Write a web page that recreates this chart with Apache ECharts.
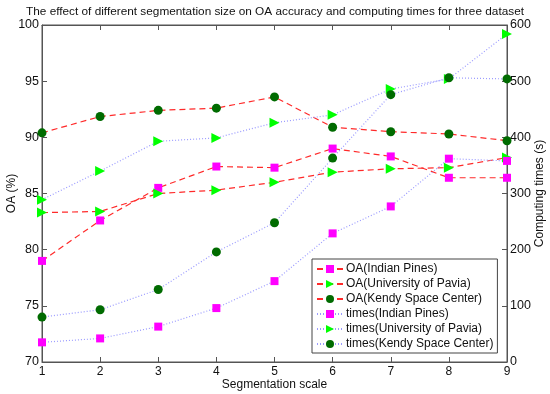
<!DOCTYPE html>
<html><head><meta charset="utf-8">
<script src="https://cdn.jsdelivr.net/npm/echarts@6/dist/echarts.min.js"></script>
<style>html,body{margin:0;padding:0;background:#fff}#c{width:550px;height:394px}</style>
</head><body><div id="c"></div>
<script>
const scales = [1,2,3,4,5,6,7,8,9];
const oaIndianPines = [79.0,82.6,85.5,87.4,87.3,89.0,88.3,86.4,86.4];
const oaPavia = [83.3,83.4,85.0,85.3,86.0,86.9,87.2,87.3,88.2];
const oaKSC = [90.4,91.85,92.4,92.6,93.6,90.9,90.5,90.3,89.7];
const timesIndianPines = [35,42,63,96,144,229,277,362,358];
const timesPavia = [289,340,393,399,426,440,486,504,584];
const timesKSC = [80,93,129,196,248,363,476,506,504];
const leftTicks = {min:70,max:100,interval:5};
const rightTicks = {min:0,max:600,interval:100};

const F = 'Liberation Sans, Arial, sans-serif';
const pair = arr => arr.map((v,i)=>[scales[i],v]);
const red = '#ff2a2a', blue = '#9a9aff';
const mk = {
  sq:{symbol:'rect',symbolSize:8,color:'#ff00ff'},
  tri:{symbol:'triangle',symbolSize:10,color:'#00ff00',rotate:-90},
  cir:{symbol:'circle',symbolSize:9,color:'#006b00'}
};
function S(name,data,y,m,lc,dash){
  return {name,type:'line',yAxisIndex:y,data:pair(data),symbol:m.symbol,symbolSize:m.symbolSize,
    symbolRotate:m.rotate||0,showSymbol:true,
    itemStyle:{color:m.color,borderWidth:0},
    lineStyle:{color:lc,width:1.2,type:dash},
    emphasis:{disabled:true},animation:false,z:3};
}
const chart = echarts.init(document.getElementById('c'));
const axCol = '#555';
chart.setOption({
  animation:false,
  backgroundColor:'#fff',
  title:{text:'The effect of different segmentation size on OA accuracy and computing times for three dataset',
    left:'center',top:1,textStyle:{fontFamily:F,fontSize:11.8,fontWeight:'normal',color:'#111'}},
  grid:{left:42,right:43,top:25,bottom:32,outerBoundsMode:'none',containLabel:false,show:true,borderColor:axCol,borderWidth:1,backgroundColor:'#fff'},
  legend:{left:312,top:259,orient:'vertical',itemGap:3,itemWidth:26,itemHeight:10,
    backgroundColor:'#fff',borderColor:'#444',borderWidth:1,padding:[4,4,3,4],
    textStyle:{fontFamily:F,fontSize:12,color:'#111',padding:[0,0,0,-2]},
    data:['OA(Indian Pines)','OA(University of Pavia)','OA(Kendy Space Center)','times(Indian Pines)','times(University of Pavia)','times(Kendy Space Center)']},
  xAxis:[{type:'value',min:1,max:9,interval:1,name:'Segmentation scale',nameLocation:'middle',nameGap:17,nameMoveOverlap:false,
    nameTextStyle:{fontFamily:F,fontSize:12,color:'#111'},
    axisLine:{lineStyle:{color:axCol}},axisTick:{inside:true,length:5,lineStyle:{color:axCol}},
    axisLabel:{fontFamily:F,fontSize:12,color:'#111',margin:4},splitLine:{show:false}},
    {type:'value',position:'top',min:1,max:9,interval:1,axisLine:{lineStyle:{color:axCol}},
    axisTick:{inside:true,length:5,lineStyle:{color:axCol}},axisLabel:{show:false},splitLine:{show:false}}],
  yAxis:[{type:'value',min:leftTicks.min,max:leftTicks.max,interval:leftTicks.interval,name:'OA (%)',nameLocation:'middle',nameGap:24,nameMoveOverlap:false,
    nameTextStyle:{fontFamily:F,fontSize:12,color:'#111'},
    axisLine:{show:true,lineStyle:{color:axCol}},axisTick:{show:true,inside:true,length:5,lineStyle:{color:axCol}},
    axisLabel:{fontFamily:F,fontSize:12.5,color:'#111',margin:3},splitLine:{show:false}},
    {type:'value',position:'right',min:rightTicks.min,max:rightTicks.max,interval:rightTicks.interval,name:'Computing times (s)',nameLocation:'middle',nameGap:27,nameMoveOverlap:false,
    nameTextStyle:{fontFamily:F,fontSize:12,color:'#111'},
    axisLine:{show:true,lineStyle:{color:axCol}},axisTick:{show:true,inside:true,length:5,lineStyle:{color:axCol}},
    axisLabel:{fontFamily:F,fontSize:12.5,color:'#111',margin:3},splitLine:{show:false}}],
  series:[
    S('OA(Indian Pines)',oaIndianPines,0,mk.sq,red,[6,4]),
    S('OA(University of Pavia)',oaPavia,0,mk.tri,red,[6,4]),
    S('OA(Kendy Space Center)',oaKSC,0,mk.cir,red,[6,4]),
    S('times(Indian Pines)',timesIndianPines,1,mk.sq,blue,[1,2]),
    S('times(University of Pavia)',timesPavia,1,mk.tri,blue,[1,2]),
    S('times(Kendy Space Center)',timesKSC,1,mk.cir,blue,[1,2])
  ]
});
</script></body></html>
